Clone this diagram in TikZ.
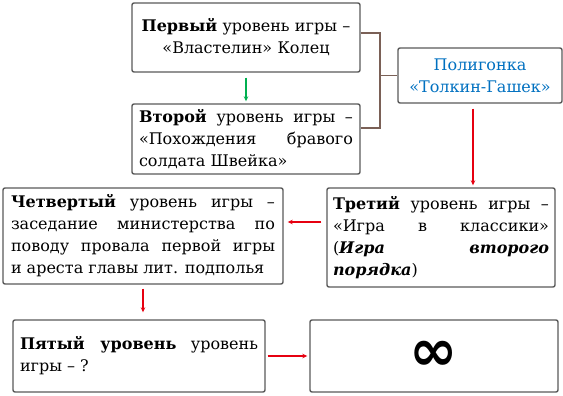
\documentclass[tikz,border=0pt]{standalone}
\usepackage{fontspec}
\setmainfont{DejaVu Serif}
\newfontfamily\symfont{DejaVu Sans}
\usetikzlibrary{arrows.meta,positioning}
\definecolor{polyblue}{RGB}{0,112,192}
\definecolor{linkbrown}{RGB}{122,96,86}
\definecolor{arrgreen}{RGB}{0,176,80}
\definecolor{arrred}{RGB}{230,0,16}
\tikzset{
  box/.style={draw=black!65,line width=1.4pt,rounded corners=2pt,inner sep=0pt,font=\fontsize{16}{22}\selectfont},
  jbox/.style={box,align=justify},
  cbox/.style={box,align=center},
  arr/.style={-{Stealth[length=5pt,width=4.5pt]},line width=1.2pt},
  link/.style={draw=linkbrown,line width=1.4pt},
}

\begin{document}
\begin{tikzpicture}[x=1pt,y=-1pt]
\useasboundingbox (0,0) rectangle (563,396);
\node[cbox,minimum width=228,minimum height=69,text width=216] (first) at (246,37.5) {\textbf{Первый} уровень игры –\\«Властелин» Колец};
\node[jbox,minimum width=228,minimum height=70,text width=214] (second) at (246,139) {\textbf{Второй} уровень игры –\linebreak «Похождения бравого\linebreak солдата Швейка»};
\node[cbox,minimum width=164,minimum height=55,text width=156,text=polyblue] (poly) at (480,75.5) {Полигонка\\«Толкин-Гашек»};
\node[jbox,minimum width=228,minimum height=99,text width=216] (third) at (441,237.5) {\textbf{Третий} уровень игры –\linebreak «Игра в классики»\linebreak (\textbf{\textit{Игра второго}}\linebreak \textbf{\textit{порядка}})};
\node[jbox,minimum width=280,minimum height=96,text width=264] (fourth) at (143,236) {\textbf{Четвертый} уровень игры –\linebreak заседание министерства по\linebreak поводу провала первой игры\linebreak и ареста главы лит. подполья};
\node[jbox,minimum width=252,minimum height=72,text width=238] (fifth) at (139,356) {\textbf{Пятый уровень} уровень\linebreak игры – ?};
\node[box,minimum width=248,minimum height=72] (inf) at (434,356) {\symfont\bfseries\fontsize{58}{58}\selectfont ∞};
% bracket to the polygon
\coordinate (joint) at (380,75.5);
\draw[link] ([yshift=4.5pt]first.east) -| (joint) |- ([yshift=11pt]second.east);
\draw[link] (joint) -- (poly.west);
% arrows
\draw[arr,arrgreen,shorten >=2pt] ([yshift=-5pt]first.south) -- (second.north);
\coordinate (p) at ([xshift=-7pt,yshift=-5pt]poly.south);
\draw[arr,arrred,shorten >=2pt] (p) -- (p |- third.north);
\coordinate (q) at ([xshift=-5pt,yshift=15.5pt]third.west);
\draw[arr,arrred,shorten >=4pt] (q) -- (q -| fourth.east);
\coordinate (r) at ([yshift=-4pt]fourth.south);
\draw[arr,arrred,shorten >=7pt] (r) -- (r |- fifth.north);
\coordinate (s) at ([xshift=2pt]fifth.east);
\draw[arr,arrred,shorten >=2pt] (s) -- (s -| inf.west);
\end{tikzpicture}
\end{document}
